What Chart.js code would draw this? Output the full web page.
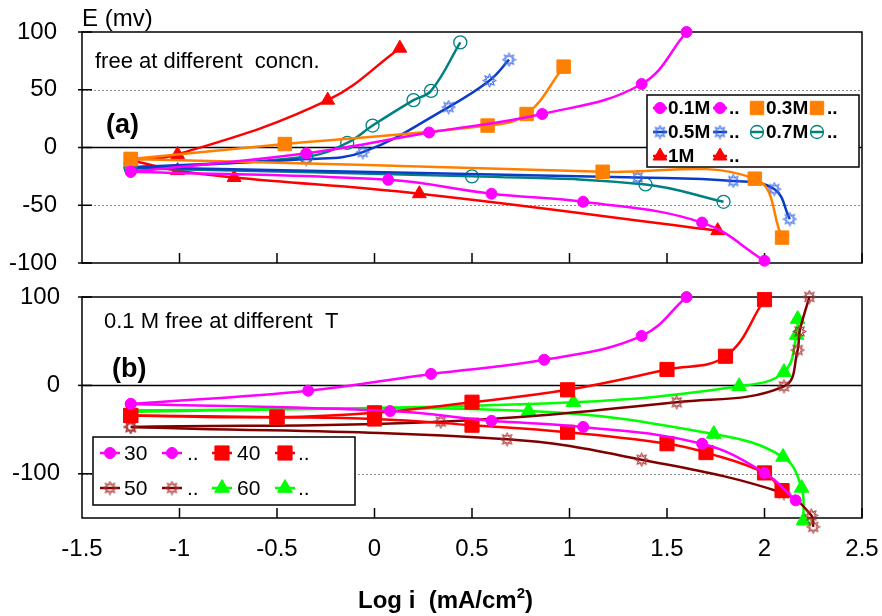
<!DOCTYPE html>
<html>
<head>
<meta charset="utf-8">
<script src="https://cdn.jsdelivr.net/npm/chart.js@4.4.1/dist/chart.umd.min.js"></script>
<style>
body { margin: 0; background: #fff; }
#wrap { position: relative; width: 882px; height: 616px; }
canvas { position: absolute; left: 0; }
#cTop { top: 0; }
#cBot { top: 280px; }
</style>
</head>
<body>
<div id="wrap">
<canvas id="cTop" width="882" height="280"></canvas>
<canvas id="cBot" width="882" height="336"></canvas>
</div>
<script>
"use strict";
// panel (a): free at different concentrations, anodic (a) and cathodic (c) branches
var concLabels = ['0.1M', '..', '0.3M', '..', '0.5M', '..', '0.7M', '..', '1M', '..'];
var x01a = [-1.25, -0.35, 0.28, 0.86, 1.37, 1.6];
var e01a = [-21, -5, 13, 29, 55, 100];
var x01c = [-1.25, 0.07, 0.6, 1.07, 1.68, 2.0];
var e01c = [-21, -28, -40, -47, -65, -98];
var x03a = [-1.25, -0.46, 0.58, 0.78, 0.97];
var e03a = [-10, 3, 19, 29, 70];
var x03c = [-1.25, 1.17, 1.95, 2.09];
var e03c = [-10, -21, -27, -78];
var x05a = [-1.25, -0.35, -0.06, 0.38, 0.59, 0.69];
var e05a = [-17, -10, -4, 35, 58, 76];
var x05c = [-1.25, 1.35, 1.84, 2.05, 2.13];
var e05c = [-17, -26, -29, -36, -62];
var x07a = [-1.25, -0.35, -0.14, -0.01, 0.2, 0.29, 0.44];
var e07a = [-18, -8, 4, 19, 41, 49, 91];
var x07c = [-1.25, 0.5, 1.39, 1.79];
var e07c = [-18, -25, -32, -47];
var x1a = [-1.25, -1.01, -0.24, 0.13];
var e1a = [-11, -6, 41, 86];
var x1c = [-1.25, -1.01, -0.72, 0.23, 1.76];
var e1c = [-11, -20, -26, -40, -72];

// panel (b): 0.1 M free at different temperatures
var tempLabels = ['30', '..', '40', '..', '50', '..', '60', '..'];
var x30a = [-1.25, -0.34, 0.29, 0.87, 1.37, 1.6];
var e30a = [-21, -6, 13, 29, 56, 100];
var x30c = [-1.25, 0.08, 0.6, 1.07, 1.68, 2.0, 2.16];
var e30c = [-21, -29, -40, -47, -66, -99, -130];
var x40a = [-1.25, -0.5, 0, 0.5, 0.99, 1.5, 1.8, 2.0];
var e40a = [-34, -36, -31, -19, -5, 18, 33, 97];
var x40c = [-1.25, -0.5, 0, 0.5, 0.99, 1.5, 1.7, 2.0, 2.09];
var e40c = [-34, -36, -38, -45, -53, -66, -76, -99, -119];
var x50a = [-1.25, 0.34, 1.55, 2.1, 2.17, 2.18, 2.23];
var e50a = [-47, -41, -19, -1, 40, 61, 100];
var x50c = [-1.25, 0.68, 1.37, 2.1, 2.24, 2.25];
var e50c = [-47, -61, -84, -122, -147, -160];
var x60a = [-1.25, 1.02, 1.87, 2.1, 2.165, 2.17];
var e60a = [-30, -19, -1, 15, 57, 75];
var x60c = [-1.25, 0.79, 1.74, 2.095, 2.19, 2.2];
var e60c = [-28, -29, -55, -81, -116, -153];

var xTickVals = [-1, -0.5, 0, 0.5, 1, 1.5, 2, 2.5];
var yTicksTop = [-100, -50, 0, 50, 100];
var yTicksBot = [-100, 0, 100];

var FONT = "'Liberation Sans', Arial, sans-serif";
Chart.defaults.font.family = FONT;
Chart.defaults.font.size = 24;
Chart.defaults.color = '#000';

// sun marker: small ring with eight spikes
function makeSun(color) {
    var c = document.createElement('canvas');
    c.width = 15; c.height = 15;
    var g = c.getContext('2d');
    g.strokeStyle = color;
    g.lineWidth = 1;
    g.beginPath();
    g.arc(7.5, 7.5, 3.6, 0, 2 * Math.PI);
    g.stroke();
    g.beginPath();
    for (var k = 0; k < 8; k++) {
        var a = k * Math.PI / 4;
        g.moveTo(7.5 + Math.cos(a - 0.35) * 3.8, 7.5 + Math.sin(a - 0.35) * 3.8);
        g.lineTo(7.5 + Math.cos(a) * 6.8, 7.5 + Math.sin(a) * 6.8);
        g.lineTo(7.5 + Math.cos(a + 0.35) * 3.8, 7.5 + Math.sin(a + 0.35) * 3.8);
    }
    g.stroke();
    return c;
}

var mkPink = { style: 'circle', r: 5.5, fill: '#ff00ff', stroke: '#ff00ff', bw: 1 };
var mkOrange = { style: 'rect', r: 9.5, fill: '#ff8000', stroke: '#ff8000', bw: 1 };
var mkBlueSun = { style: makeSun('#3a6ae6'), r: 7, fill: 'rgba(0,0,0,0)', stroke: '#3a6ae6', bw: 1 };
var mkTeal = { style: 'circle', r: 6.5, fill: 'rgba(0,0,0,0)', stroke: '#008080', bw: 1.3 };
var mkRedTri = { style: 'triangle', r: 8, fill: '#ff0000', stroke: '#ff0000', bw: 1 };
var mkRedSq = { style: 'rect', r: 10, fill: '#ff0000', stroke: '#ff0000', bw: 1 };
var mkDarkSun = { style: makeSun('#a83030'), r: 7, fill: 'rgba(0,0,0,0)', stroke: '#a83030', bw: 1 };
var mkGreenTri = { style: 'triangle', r: 8.5, fill: '#00ff00', stroke: '#00ff00', bw: 1 };

function series(label, xs, ys, line, mk) {
    return {
        label: label,
        data: xs.map(function (x, i) { return { x: x, y: ys[i] }; }),
        showLine: true,
        borderColor: line,
        borderWidth: 2.5,
        tension: 0.4,
        clip: false,
        pointStyle: mk.style,
        pointRadius: mk.r,
        pointHoverRadius: mk.r + 6,
        pointBackgroundColor: mk.fill,
        pointBorderColor: mk.stroke,
        pointBorderWidth: mk.bw
    };
}

function line(ctx, x1, y1, x2, y2) {
    ctx.beginPath();
    ctx.moveTo(x1, y1);
    ctx.lineTo(x2, y2);
    ctx.stroke();
}

var panelPlugin = {
    id: 'panel',
    beforeDatasetsDraw: function (chart, args, opts) {
        var ctx = chart.ctx, a = chart.chartArea;
        var xs = chart.scales.x, ys = chart.scales.y;
        ctx.save();
        ctx.strokeStyle = '#8c8c8c';
        ctx.lineWidth = 1;
        ctx.setLineDash([2, 2]);
        opts.grid.forEach(function (v) {
            var y = Math.round(ys.getPixelForValue(v)) + 0.5;
            line(ctx, a.left, y, a.right, y);
        });
        ctx.setLineDash([]);
        ctx.strokeStyle = '#000';
        ctx.lineWidth = 1.5;
        var y0 = ys.getPixelForValue(0);
        line(ctx, a.left, y0, a.right, y0);
        ctx.strokeRect(a.left, a.top, a.right - a.left, a.bottom - a.top);
        xTickVals.forEach(function (v) {
            var x = xs.getPixelForValue(v);
            line(ctx, x, a.bottom, x, a.bottom - 10);
        });
        opts.yTicks.forEach(function (v) {
            var y = ys.getPixelForValue(v);
            line(ctx, a.left - 4, y, a.left + 10, y);
        });
        ctx.restore();
    },
    afterDatasetsDraw: function (chart, args, opts) {
        var L = opts.legend, ctx = chart.ctx;
        ctx.save();
        ctx.fillStyle = '#fff';
        ctx.fillRect(L.box[0], L.box[1], L.box[2], L.box[3]);
        ctx.strokeStyle = '#000';
        ctx.lineWidth = 1.5;
        ctx.strokeRect(L.box[0], L.box[1], L.box[2], L.box[3]);
        ctx.font = L.font;
        ctx.textBaseline = 'middle';
        ctx.textAlign = 'left';
        chart.data.datasets.forEach(function (d, i) {
            var col = i % 4, row = Math.floor(i / 4);
            var cx = L.symX[col], cy = L.rowY[row];
            ctx.strokeStyle = d.borderColor;
            ctx.lineWidth = d.borderWidth;
            line(ctx, cx - L.half, cy, cx + L.half, cy);
            ctx.fillStyle = d.pointBackgroundColor;
            ctx.strokeStyle = d.pointBorderColor;
            ctx.lineWidth = d.pointBorderWidth;
            Chart.helpers.drawPoint(ctx, {
                pointStyle: d.pointStyle, radius: d.pointRadius, rotation: 0,
                borderWidth: d.pointBorderWidth
            }, cx, cy);
            ctx.fillStyle = '#000';
            ctx.fillText(d.label, L.textX[col], cy + 1);
        });
        ctx.restore();
    },
    afterDraw: function (chart, args, opts) {
        var ctx = chart.ctx;
        ctx.save();
        ctx.fillStyle = '#000';
        ctx.textBaseline = 'alphabetic';
        ctx.textAlign = 'left';
        opts.notes.forEach(function (n) {
            var x = n.x;
            n.parts.forEach(function (p) {
                ctx.font = p.font;
                ctx.fillText(p.t, x, n.y + (p.dy || 0));
                x += ctx.measureText(p.t).width;
            });
        });
        ctx.restore();
    }
};

function noPad(s) {
    s.paddingTop = 0; s.paddingBottom = 0;
    s.paddingLeft = 0; s.paddingRight = 0;
}

function yAxis(min, max, ticks, pad) {
    return {
        type: 'linear', min: min, max: max,
        afterFit: function (s) { s.width = 82; noPad(s); },
        afterBuildTicks: function (s) { s.ticks = ticks.map(function (v) { return { value: v }; }); },
        grid: { display: false, drawTicks: false },
        border: { display: false },
        ticks: { padding: pad }
    };
}

function xAxis(height, showLabels) {
    return {
        type: 'linear', min: -1.5, max: 2.5,
        afterFit: function (s) { s.height = height; noPad(s); },
        grid: { display: false, drawTicks: false },
        border: { display: false },
        ticks: {
            display: showLabels, stepSize: 0.5, padding: 17, maxRotation: 0, autoSkip: false,
            callback: function (v) { return String(v); }
        }
    };
}

new Chart(document.getElementById('cTop'), {
    type: 'scatter',
    data: {
        datasets: [
            series(concLabels[0], x01a, e01a, '#ff00ff', mkPink),
            series(concLabels[1], x01c, e01c, '#ff00ff', mkPink),
            series(concLabels[2], x03a, e03a, '#ff8000', mkOrange),
            series(concLabels[3], x03c, e03c, '#ff8000', mkOrange),
            series(concLabels[4], x05a, e05a, '#0a3cc8', mkBlueSun),
            series(concLabels[5], x05c, e05c, '#0a3cc8', mkBlueSun),
            series(concLabels[6], x07a, e07a, '#008080', mkTeal),
            series(concLabels[7], x07c, e07c, '#008080', mkTeal),
            series(concLabels[8], x1a, e1a, '#ff0000', mkRedTri),
            series(concLabels[9], x1c, e1c, '#ff0000', mkRedTri)
        ]
    },
    options: {
        responsive: false,
        animation: false,
        events: [],
        devicePixelRatio: 1,
        layout: { padding: { left: 0, right: 20, top: 32, bottom: 0 } },
        scales: {
            x: xAxis(17, false),
            y: yAxis(-100, 100, yTicksTop, 25)
        },
        plugins: {
            legend: { display: false },
            tooltip: { enabled: false },
            panel: {
                grid: [50, -50],
                yTicks: yTicksTop,
                legend: {
                    box: [647, 95, 212, 72],
                    symX: [660, 720, 757, 817],
                    textX: [668, 729, 766, 827],
                    rowY: [108, 132, 156],
                    half: 7,
                    font: "bold 19px " + FONT
                },
                notes: [
                    { x: 82, y: 26, parts: [{ t: 'E (mv)', font: "24px " + FONT }] },
                    { x: 95, y: 68, parts: [{ t: 'free at different  concn.', font: "22px " + FONT }] },
                    { x: 106, y: 133, parts: [{ t: '(a)', font: "bold 27px " + FONT }] }
                ]
            }
        }
    },
    plugins: [panelPlugin]
});

new Chart(document.getElementById('cBot'), {
    type: 'scatter',
    data: {
        datasets: [
            series(tempLabels[0], x30a, e30a, '#ff00ff', mkPink),
            series(tempLabels[1], x30c, e30c, '#ff00ff', mkPink),
            series(tempLabels[2], x40a, e40a, '#ff0000', mkRedSq),
            series(tempLabels[3], x40c, e40c, '#ff0000', mkRedSq),
            series(tempLabels[4], x50a, e50a, '#800000', mkDarkSun),
            series(tempLabels[5], x50c, e50c, '#800000', mkDarkSun),
            series(tempLabels[6], x60a, e60a, '#00ff00', mkGreenTri),
            series(tempLabels[7], x60c, e60c, '#00ff00', mkGreenTri)
        ]
    },
    options: {
        responsive: false,
        animation: false,
        events: [],
        devicePixelRatio: 1,
        layout: { padding: { left: 0, right: 20, top: 16, bottom: 0 } },
        scales: {
            x: xAxis(98, true),
            y: yAxis(-150, 100, yTicksBot, 22)
        },
        plugins: {
            legend: { display: false },
            tooltip: { enabled: false },
            panel: {
                grid: [-100],
                yTicks: yTicksBot,
                legend: {
                    box: [93, 157, 262, 68],
                    symX: [110, 172, 222, 285],
                    textX: [124, 187, 237, 298],
                    rowY: [173, 208],
                    half: 10,
                    font: "21px " + FONT
                },
                notes: [
                    { x: 104, y: 48, parts: [{ t: '0.1 M free at different  T', font: "22px " + FONT }] },
                    { x: 112, y: 97, parts: [{ t: '(b)', font: "bold 27px " + FONT }] },
                    { x: 358, y: 328, parts: [
                        { t: 'Log i  (mA/cm', font: "bold 24px " + FONT },
                        { t: '2', font: "bold 15px " + FONT, dy: -10 },
                        { t: ')', font: "bold 24px " + FONT }
                    ] }
                ]
            }
        }
    },
    plugins: [panelPlugin]
});
</script>
</body>
</html>
